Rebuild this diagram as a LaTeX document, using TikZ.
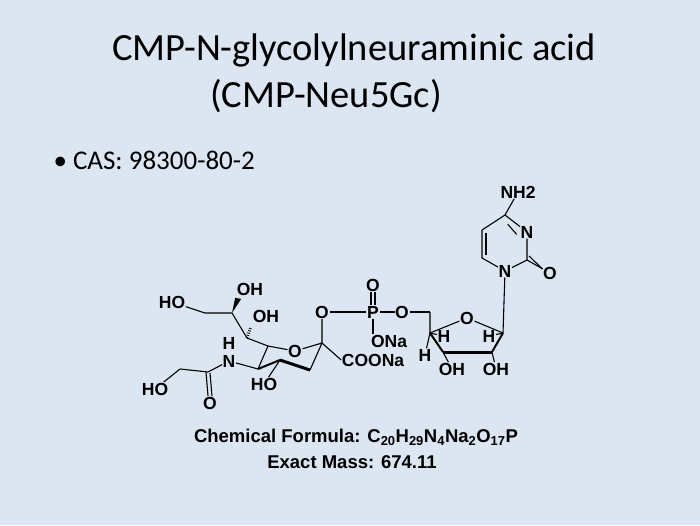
\documentclass[tikz,border=0pt]{standalone}
\usepackage{fontspec}
\setmainfont{Carlito}
\newfontfamily\chemf{Liberation Sans}
\usetikzlibrary{calc}
\begin{document}
\begin{tikzpicture}[x=1pt,y=-1pt,
  atm/.style={font=\chemf\bfseries\fontsize{17.5}{18}\selectfont,inner sep=0.5pt},
  bd/.style={line width=1.1pt},
  bw/.style={line width=3pt},
  lbl/.style={font=\chemf\bfseries\fontsize{18.5}{20}\selectfont,inner sep=0pt}]
\fill[fill={rgb,255:red,220;green,230;blue,242}] (0,0) rectangle (700,525);
\useasboundingbox (0,0) rectangle (700,525);
\node (t1) at (354,50) {\fontsize{38.5}{40}\selectfont CMP-N-glycolylneuraminic acid};
\node (t2) at (326,96) {\fontsize{38.5}{40}\selectfont (CMP-Neu5Gc)};
\node[anchor=west] (cas) at (50,160) {\fontsize{27}{30}\selectfont \textbullet\ CAS: 98300-80-2};
% cytosine
\node[atm] (nh2) at (518,192) {NH2};
\coordinate (c4) at (505,215);
\node[atm] (n3) at (527,232) {N};
\coordinate (c2) at (527,260);
\node[atm] (o2) at (550,273) {O};
\node[atm] (n1) at (505,271) {N};
\coordinate (c6) at (482,258);
\coordinate (c5) at (482,230);
\draw[bd] (nh2)--(c4) (c4)--(n3) (n3)--(c2) (c2)--(n1) (n1)--(c6) (c6)--(c5) (c5)--(c4);
\draw[bd] ($(c4)!0.25!(n3.west)+(-1,5)$)--($(c4)!0.85!(n3.west)+(-1,5)$);
\draw[bd] ($(c6)+(4,-3)$)--($(c5)+(4,3)$);
\draw[bd] (c2)--(o2);
\draw[bd] ($(c2)+(2,-4)$)--($(o2.west)+(0,-4)$);
% ribose
\coordinate (c1r) at (503,333);
\node[atm] (or) at (467,318) {O};
\coordinate (c4r) at (430,333);
\coordinate (c3r) at (443,352);
\coordinate (c2r) at (492,352);
\coordinate (c5r) at (430,312);
\draw[bd] (n1)--(c1r) (c1r)--(or) (or)--(c4r) (c4r)--(c5r);
\draw[bw] (c3r)--(c2r);
\draw[line width=2pt] (c4r)--(c3r) (c2r)--(c1r);
\node[atm] (h4) at (444,336) {H};
\node[atm] (h1) at (489,336) {H};
\node[atm] (h4b) at (425,355) {H};
\node[atm] (oh3) at (452,369) {OH};
\node[atm] (oh2) at (496,369) {OH};
\draw[bd] (c4r)--(h4) (c1r)--(h1) (c4r)--(h4b) (c3r)--(oh3) (c2r)--(oh2);
% phosphate
\node[atm] (o5) at (402,312) {O};
\node[atm] (p) at (373,312) {P};
\node[atm] (op) at (373,285) {O};
\node[atm] (ona) at (389,341) {ONa};
\node[atm] (ol) at (322,312) {O};
\draw[bd] (c5r)--(o5) (o5)--(p) (p)--(ol);
\draw[bd] ($(p.north)+(-2,0)$)--($(op.south)+(-2,0)$) ($(p.north)+(2,0)$)--($(op.south)+(2,0)$);
\draw[bd] (p)--(ona.north -| p);
% sialic acid
\coordinate (s2) at (322,343);
\node[atm] (coo) at (373,360) {COONa};
\node[atm] (os) at (295,351) {O};
\coordinate (s3) at (310,370);
\coordinate (s4) at (280,360);
\node[atm] (ho4) at (264,384) {HO};
\coordinate (s5) at (258,369);
\coordinate (s6) at (268,346);
\draw[bd] (ol)--(s2) (s2)--(os) (os)--(s6) (s6)--(s5) (s3)--(s2);
\draw[bd] (s2)--(coo.west);
\draw[bw] (s4)--(s3);
\draw[line width=2pt] (s5)--(s4);
\draw[bd] (s4)--(ho4);
\node[atm] (nn) at (229,361) {N};
\node[atm] (hn) at (229,343) {H};
\coordinate (am) at (208,372);
\node[atm] (oam) at (210,403) {O};
\coordinate (ch2) at (180,369);
\node[atm] (ho) at (155,389) {HO};
\draw[bd] (s5)--(nn) (nn)--(am) (am)--(ch2) (ch2)--(ho);
\draw[bd] ($(am)+(-2,0)$)--($(oam.north)+(-2,0)$) ($(am)+(2,1)$)--($(oam.north)+(2,0)$);
\coordinate (c7) at (247,338);
\node[atm] (oh7) at (266,316) {OH};
\coordinate (c8) at (232,313);
\node[atm] (oh8) at (250,289) {OH};
\coordinate (c9) at (205,313);
\node[atm] (ho9) at (172,302) {HO};
\draw[bd] (s6)--(c7) (c7)--(c8) (c8)--(c9) (c9)--(ho9);
\draw[dash pattern=on 0.8pt off 1.6pt,line width=3pt] (c7)--($(c7)!0.75!(oh7.south west)$);
\fill (c8) -- ($(oh8.south west)+(-1,2)$) -- ($(oh8.south west)+(5,3)$) -- cycle;
% formula
\node[lbl] (f1) at (356,437) {Chemical Formula: C\textsubscript{20}H\textsubscript{29}N\textsubscript{4}Na\textsubscript{2}O\textsubscript{17}P};
\node[lbl] (f2) at (352,462) {Exact Mass: 674.11};
\end{tikzpicture}
\end{document}
